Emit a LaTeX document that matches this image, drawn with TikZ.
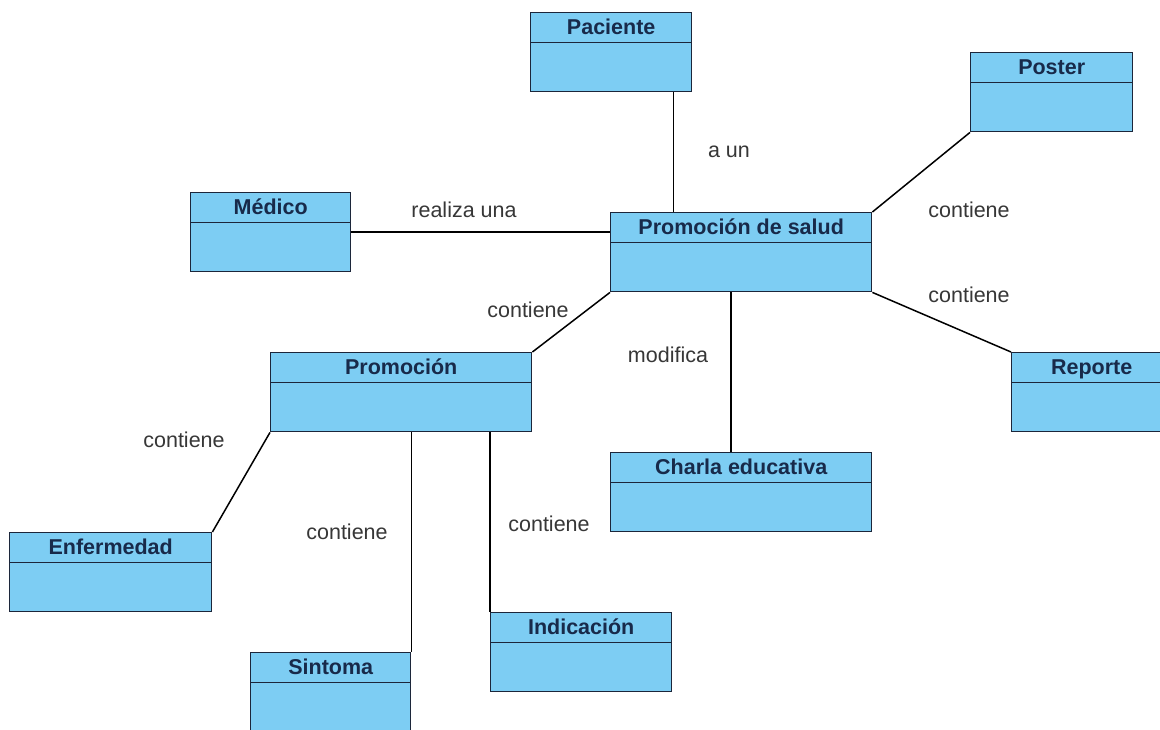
\documentclass[tikz,border=0pt]{standalone}
\usepackage{fontspec}
\setmainfont{Liberation Sans}
\definecolor{celeste}{RGB}{125,205,243}
\definecolor{borde}{RGB}{28,38,58}
\definecolor{tinta}{RGB}{24,42,74}
\definecolor{gris}{RGB}{55,55,55}
\tikzset{
  clase/.style={draw=borde, fill=celeste, line width=1.4pt, anchor=north west, inner sep=0pt,
    minimum height=79pt, text height=22pt, text depth=57pt,
    font=\bfseries\fontsize{21.5}{25}\selectfont, text=tinta,
    path picture={\draw[borde, line width=1.4pt]
      ([yshift=-30pt]path picture bounding box.north west) --
      ([yshift=-30pt]path picture bounding box.north east);}},
  etiqueta/.style={font=\fontsize{21.5}{25}\selectfont, text=gris},
}
\begin{document}
\begin{tikzpicture}[x=1pt, y=-1pt]
      \useasboundingbox[fill=white] (0,0) rectangle (1160,729);
      \node[clase, minimum width=161pt] (paciente) at (530,12) {Paciente};
      \node[clase, minimum width=162pt] (poster) at (970,52) {Poster};
      \node[clase, minimum width=160pt] (medico) at (190,192) {Médico};
      \node[clase, minimum width=261pt] (salud) at (610,212) {Promoción de salud};
      \node[clase, minimum width=261pt] (promocion) at (270,352) {Promoción};
      \node[clase, minimum width=160pt] (reporte) at (1011,352) {Reporte};
      \node[clase, minimum width=261pt] (charla) at (610,452) {Charla educativa};
      \node[clase, minimum width=202pt] (enfermedad) at (9,532) {Enfermedad};
      \node[clase, minimum width=181pt] (indicacion) at (490,612) {Indicación};
      \node[clase, minimum width=160pt] (sintoma) at (250,652) {Sintoma};
      % textos de las asociaciones
      \node[etiqueta] (aun) at (729,152) {a un};
      \node[etiqueta] (realiza) at (464,210) {realiza una};
      \node[etiqueta] (cposter) at (969,210) {contiene};
      \node[etiqueta] (creporte) at (969,295) {contiene};
      \node[etiqueta] (cpromocion) at (528,310) {contiene};
      \node[etiqueta] (modifica) at (668,355) {modifica};
      \node[etiqueta] (cenfermedad) at (184,440) {contiene};
      \node[etiqueta] (csintoma) at (347,532) {contiene};
      \node[etiqueta] (cindicacion) at (549,524) {contiene};
      \begin{scope}[-, line width=1.5pt]
        \draw ([xshift=-19pt]paciente.south east) to ([xshift=-19pt]paciente.south east |- salud.north);
        \draw (medico.east) to (medico.east -| salud.west);
        \draw (poster.south west) to (salud.north east);
        \draw (salud.south east) to (reporte.north west);
        \draw (salud.south west) to (promocion.north east);
        \draw ([xshift=-10pt]salud.south) to ([xshift=-10pt]charla.north);
        \draw (promocion.south west) to (enfermedad.north east);
        \draw (promocion.south -| sintoma.north east) to (sintoma.north east);
        \draw (promocion.south -| indicacion.north west) to (indicacion.north west);
      \end{scope}
    \end{tikzpicture}
\end{document}
